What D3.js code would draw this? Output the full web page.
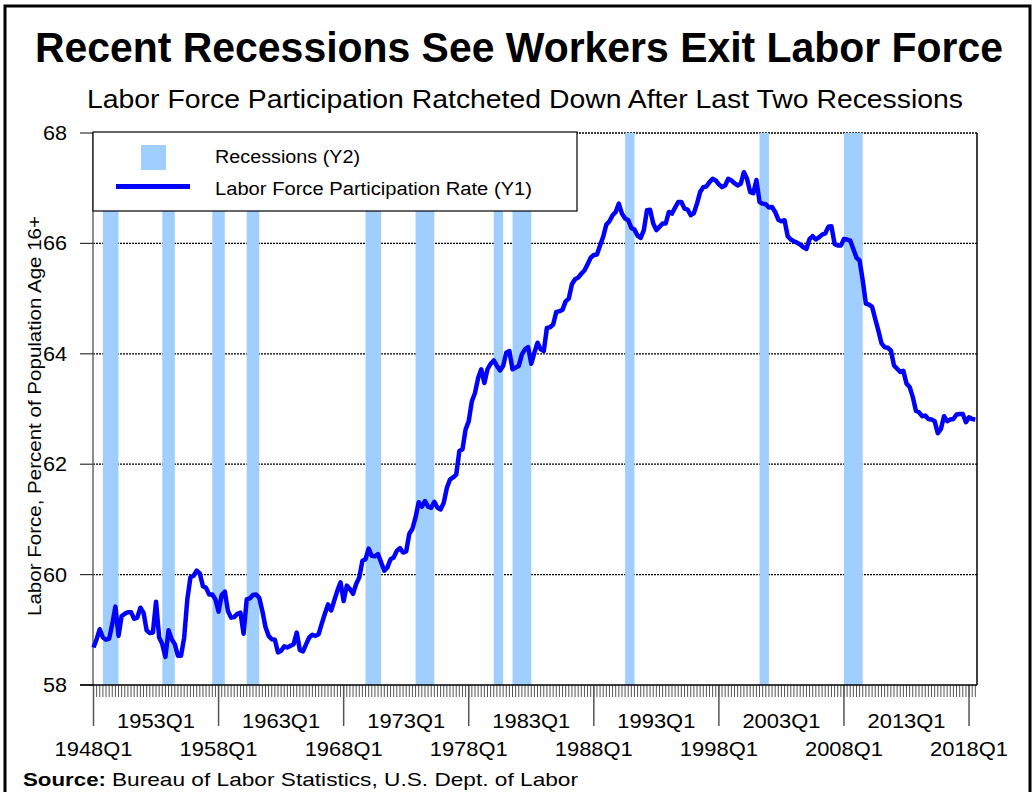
<!DOCTYPE html>
<html>
<head>
<meta charset="utf-8">
<script src="https://cdn.jsdelivr.net/npm/d3@7"></script>
<style>
  body { margin: 0; background: #fff; }
  svg text { font-family: "Liberation Sans", Arial, sans-serif; fill: #000; }
</style>
</head>
<body>
<div id="chart"></div>
<script>
// labor force participation rate, quarterly from 1948Q1
var startYear = 1948;
var lfpr = [
  58.68, 58.83, 59.01, 58.86,  58.82, 58.84, 59.10, 59.42,  58.89, 59.25, 59.29, 59.32,  59.32, 59.20, 59.22, 59.40,
  59.31, 58.99, 58.94, 58.95,  59.51, 58.86, 58.74, 58.51,  58.99, 58.83, 58.74, 58.53,  58.53, 58.86, 59.55, 59.95,
  59.98, 60.07, 60.02, 59.79,  59.76, 59.64, 59.64, 59.55,  59.33, 59.63, 59.69, 59.34,  59.22, 59.23, 59.29, 59.31,
  58.93, 59.55, 59.57, 59.63,  59.64, 59.58, 59.34, 59.05,  58.89, 58.83, 58.82, 58.59,  58.62, 58.70, 58.68, 58.71,
  58.74, 58.95, 58.63, 58.61,  58.74, 58.86, 58.91, 58.89,  58.92, 59.11, 59.29, 59.46,  59.35, 59.53, 59.71, 59.86,
  59.52, 59.80, 59.74, 59.65,  59.83, 59.95, 60.25, 60.28,  60.47, 60.34, 60.33, 60.37,  60.22, 60.07, 60.13, 60.28,
  60.31, 60.43, 60.48, 60.40,  60.42, 60.74, 60.83, 61.04,  61.31, 61.23, 61.33, 61.23,  61.21, 61.32, 61.21, 61.18,
  61.30, 61.57, 61.72, 61.76,  61.81, 62.24, 62.27, 62.63,  62.78, 63.14, 63.29, 63.56,  63.72, 63.47, 63.72, 63.82,
  63.88, 63.78, 63.70, 63.78,  64.02, 64.05, 63.72, 63.75,  63.78, 63.99, 64.08, 64.12,  63.82, 64.02, 64.20, 64.08,
  64.05, 64.47, 64.48, 64.53,  64.76, 64.77, 64.80, 64.95,  65.00, 65.26, 65.35, 65.38,  65.45, 65.51, 65.62, 65.74,
  65.79, 65.80, 65.96, 66.12,  66.34, 66.40, 66.51, 66.57,  66.72, 66.54, 66.45, 66.42,  66.28, 66.25, 66.14, 66.10,
  66.24, 66.60, 66.61, 66.36,  66.24, 66.30, 66.36, 66.36,  66.57, 66.54, 66.65, 66.75,  66.75, 66.63, 66.61, 66.51,
  66.55, 66.72, 66.93, 67.02,  67.03, 67.11, 67.17, 67.14,  67.07, 67.02, 67.05, 67.17,  67.14, 67.09, 67.05, 67.08,
  67.29, 67.17, 66.93, 66.91,  67.15, 66.75, 66.72, 66.71,  66.65, 66.66, 66.57, 66.43,  66.40, 66.42, 66.13, 66.07,
  66.04, 66.01, 65.98, 65.93,  65.90, 66.08, 66.13, 66.07,  66.11, 66.16, 66.18, 66.30,  66.31, 65.99, 65.96, 65.96,
  66.08, 66.07, 66.05, 65.90,  65.74, 65.69, 65.33, 64.91,  64.89, 64.85, 64.63, 64.42,  64.19, 64.12, 64.11, 64.06,
  63.79, 63.73, 63.67, 63.69,  63.46, 63.40, 63.22, 62.97,  62.94, 62.87, 62.88, 62.82,  62.81, 62.78, 62.56, 62.64,
  62.87, 62.78, 62.81, 62.82,  62.90, 62.91, 62.91, 62.76,  62.85, 62.82, 62.81
];

// NBER recessions, first and last quarter
var recStart = ['1948Q4', '1953Q3', '1957Q3', '1960Q2', '1969Q4', '1973Q4', '1980Q1', '1981Q3', '1990Q3', '2001Q2', '2008Q1'];
var recEnd   = ['1949Q4', '1954Q2', '1958Q2', '1961Q1', '1970Q4', '1975Q1', '1980Q3', '1982Q4', '1991Q1', '2001Q4', '2009Q2'];

var yTicks = [58, 60, 62, 64, 66, 68];
var xLabels = ['1948Q1', '1953Q1', '1958Q1', '1963Q1', '1968Q1', '1973Q1', '1978Q1', '1983Q1',
               '1988Q1', '1993Q1', '1998Q1', '2003Q1', '2008Q1', '2013Q1', '2018Q1'];

// quarter names for the category axis
var quarters = lfpr.map(function(d, i) {
  return (startYear + Math.floor(i / 4)) + 'Q' + (i % 4 + 1);
});

var svg = d3.select('#chart').append('svg')
    .attr('width', 1033)
    .attr('height', 792);

svg.append('rect') // outer frame
    .attr('x', 5).attr('y', 6)
    .attr('width', 1025).attr('height', 800)
    .attr('fill', 'none')
    .attr('stroke', '#000')
    .attr('stroke-width', 3);

var x = d3.scalePoint().domain(quarters).range([93.5, 975.3]);
var step = x.step();
var y = d3.scaleLinear().domain([58, 68]).range([685, 133]);

// titles
svg.append('text')
    .attr('x', 35).attr('y', 62)
    .attr('font-size', 42).attr('font-weight', 'bold')
    .attr('textLength', 968).attr('lengthAdjust', 'spacingAndGlyphs')
    .text('Recent Recessions See Workers Exit Labor Force');

svg.append('text')
    .attr('x', 87).attr('y', 108)
    .attr('font-size', 25)
    .attr('textLength', 876).attr('lengthAdjust', 'spacingAndGlyphs')
    .text('Labor Force Participation Ratcheted Down After Last Two Recessions');

// gridlines (dotted)
svg.append('g').selectAll('line')
    .data(yTicks.slice(1))
  .enter().append('line')
    .attr('x1', 93).attr('x2', 977)
    .attr('y1', function(d) { return y(d); })
    .attr('y2', function(d) { return y(d); })
    .attr('stroke', '#000')
    .attr('stroke-width', 1.3)
    .attr('stroke-dasharray', '2,1');

// recession bars
svg.append('g').selectAll('rect')
    .data(recStart)
  .enter().append('rect')
    .attr('x', function(d) { return x(d); })
    .attr('width', function(d, i) { return x(recEnd[i]) - x(d) + step; })
    .attr('y', y(68))
    .attr('height', y(58) - y(68))
    .attr('fill', '#a0cfff');

// axes
var axisG = svg.append('g');

axisG.append('line') // left axis
    .attr('x1', 93).attr('x2', 93)
    .attr('y1', y(68)).attr('y2', y(58))
    .attr('stroke', '#666').attr('stroke-width', 1.5);

axisG.append('line') // right border of plot
    .attr('x1', 977).attr('x2', 977)
    .attr('y1', y(68)).attr('y2', y(58))
    .attr('stroke', '#000').attr('stroke-width', 1.5);

axisG.selectAll('.ytick')
    .data(yTicks)
  .enter().append('line')
    .attr('class', 'ytick')
    .attr('x1', 80).attr('x2', 93)
    .attr('y1', function(d) { return y(d); })
    .attr('y2', function(d) { return y(d); })
    .attr('stroke', '#333').attr('stroke-width', 1.2);

axisG.selectAll('.ylabel')
    .data(yTicks)
  .enter().append('text')
    .attr('class', 'ylabel')
    .attr('x', 67)
    .attr('y', function(d) { return y(d) + 7; })
    .attr('text-anchor', 'end')
    .attr('font-size', 20)
    .attr('textLength', 24).attr('lengthAdjust', 'spacingAndGlyphs')
    .text(function(d) { return d; });

// minor ticks, one per quarter
axisG.selectAll('.xminor')
    .data(quarters)
  .enter().append('line')
    .attr('class', 'xminor')
    .attr('x1', function(d) { return x(d); })
    .attr('x2', function(d) { return x(d); })
    .attr('y1', y(58)).attr('y2', y(58) + 12)
    .attr('stroke', '#555').attr('stroke-width', 1);

// long ticks every ten years
axisG.selectAll('.xmajor')
    .data(xLabels.filter(function(d, i) { return i % 2 === 0; }))
  .enter().append('line')
    .attr('class', 'xmajor')
    .attr('x1', function(d) { return x(d); })
    .attr('x2', function(d) { return x(d); })
    .attr('y1', y(58)).attr('y2', 726)
    .attr('stroke', '#555').attr('stroke-width', 1.5);

axisG.append('line') // bottom axis
    .attr('x1', 80).attr('x2', 977)
    .attr('y1', y(58)).attr('y2', y(58))
    .attr('stroke', '#000').attr('stroke-width', 1.5);

axisG.selectAll('.xlabel')
    .data(xLabels)
  .enter().append('text')
    .attr('class', 'xlabel')
    .attr('x', function(d) { return x(d) - 39; })
    .attr('y', function(d, i) { return i % 2 === 0 ? 756 : 728; })
    .attr('font-size', 20)
    .attr('textLength', 78).attr('lengthAdjust', 'spacingAndGlyphs')
    .text(function(d) { return d; });

// y axis title
svg.append('text')
    .attr('transform', 'translate(41,416) rotate(-90)')
    .attr('text-anchor', 'middle')
    .attr('font-size', 18)
    .attr('textLength', 400).attr('lengthAdjust', 'spacingAndGlyphs')
    .text('Labor Force, Percent of Population Age 16+');

// the series
var line = d3.line()
    .x(function(d, i) { return x(quarters[i]); })
    .y(function(d) { return y(d); });

svg.append('path')
    .datum(lfpr)
    .attr('d', line)
    .attr('fill', 'none')
    .attr('stroke', '#0000ff')
    .attr('stroke-width', 4.5)
    .attr('stroke-linejoin', 'round');

// legend box
var legend = svg.append('g');

legend.append('rect')
    .attr('x', 93).attr('y', 132)
    .attr('width', 484).attr('height', 79)
    .attr('fill', '#fff')
    .attr('stroke', '#000').attr('stroke-width', 1.2);

legend.append('rect')
    .attr('x', 141).attr('y', 145)
    .attr('width', 25).attr('height', 25)
    .attr('fill', '#a0cfff');

legend.append('line')
    .attr('x1', 116).attr('x2', 190)
    .attr('y1', 186.5).attr('y2', 186.5)
    .attr('stroke', '#0000ff').attr('stroke-width', 5);

legend.append('text')
    .attr('x', 215).attr('y', 163)
    .attr('font-size', 18)
    .attr('textLength', 145).attr('lengthAdjust', 'spacingAndGlyphs')
    .text('Recessions (Y2)');

legend.append('text')
    .attr('x', 215).attr('y', 195)
    .attr('font-size', 18)
    .attr('textLength', 317).attr('lengthAdjust', 'spacingAndGlyphs')
    .text('Labor Force Participation Rate (Y1)');

// source note
svg.append('text')
    .attr('x', 23).attr('y', 786)
    .attr('font-size', 19).attr('font-weight', 'bold')
    .attr('textLength', 83).attr('lengthAdjust', 'spacingAndGlyphs')
    .text('Source:');

svg.append('text')
    .attr('x', 112).attr('y', 786)
    .attr('font-size', 19)
    .attr('textLength', 466).attr('lengthAdjust', 'spacingAndGlyphs')
    .text('Bureau of Labor Statistics, U.S. Dept. of Labor');
</script>
</body>
</html>
